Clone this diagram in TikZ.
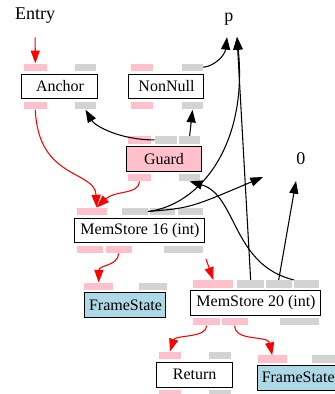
\documentclass[tikz,border=0pt]{standalone}
\usepackage{fontspec}
\setmainfont{Liberation Serif}
\usetikzlibrary{arrows.meta}
\usetikzlibrary{positioning}

\definecolor{slotpink}{RGB}{255,192,203}
\definecolor{slotgray}{RGB}{211,211,211}
\definecolor{fsblue}{RGB}{173,216,230}

\tikzset{
  opbox/.style={draw=black, line width=0.75pt, minimum height=18.5pt, inner sep=0pt, font=\fontsize{12}{14}\selectfont},
  slot/.style={minimum height=5.6pt, inner sep=0pt, draw=none},
  lbl/.style={font=\fontsize{13.5}{16}\selectfont, inner sep=0pt},
  dataedge/.style={black, line width=0.8pt, -{Triangle[length=9.5pt,width=6.8pt]}},
  ctrledge/.style={red, line width=0.8pt, -{Triangle[length=9.5pt,width=6.8pt]}}
}

% name, colour, left x, right x, centre y
\newcommand{\portslot}[5]{\node[slot, fill=#2, minimum width={(#4-#3)*0.75pt}] (#1) at ({(#3+#4)/2},#5) {};}

\begin{document}
\begin{tikzpicture}[x=0.75pt,y=-0.75pt]
\clip (0,0) rectangle (335,394);

% operation boxes
\node[opbox, minimum width=57pt] (anchor) at (60,86.5) {Anchor};
\node[opbox, minimum width=56.25pt] (nonnull) at (166.5,86.5) {NonNull};
\node[opbox, minimum width=56.8pt, fill=slotpink] (guard) at (164,158.7) {Guard};
\node[opbox, minimum width=97.5pt] (ms16) at (140,230.5) {MemStore 16 (int)};
\node[opbox, minimum width=60.75pt, fill=fsblue] (fsl) at (125.5,305.3) {FrameState};
\node[opbox, minimum width=97.5pt] (ms20) at (256,302.8) {MemStore 20 (int)};
\node[opbox, minimum width=57pt] (ret) at (194.7,374.8) {Return};
\node[opbox, minimum width=60.75pt, fill=fsblue] (fsr) at (298.2,377.7) {FrameState};

% input and output slots
\portslot{anchor-i1}{slotpink}{24}{46.7}{67.25}
\portslot{anchor-i2}{slotgray}{75}{96}{67.25}
\portslot{anchor-o1}{slotpink}{24}{46.7}{105.75}
\portslot{anchor-o2}{slotgray}{75}{96}{105.75}

\portslot{nonnull-i1}{slotpink}{131}{153}{67.25}
\portslot{nonnull-i2}{slotgray}{182}{203}{67.25}
\portslot{nonnull-o1}{slotpink}{131}{153}{105.75}
\portslot{nonnull-o2}{slotgray}{182}{203}{105.75}

\portslot{guard-i1}{slotpink}{128.3}{150.7}{139.9}
\portslot{guard-i2}{slotgray}{155}{177.3}{139.9}
\portslot{guard-i3}{slotgray}{179.3}{200}{139.9}
\portslot{guard-o1}{slotpink}{128.3}{150.7}{177.4}
\portslot{guard-o2}{slotgray}{179.3}{200}{177.4}

\portslot{ms16-i1}{slotpink}{77.3}{106.7}{211.5}
\portslot{ms16-i2}{slotgray}{121.7}{147.7}{211.5}
\portslot{ms16-i3}{slotgray}{150}{175}{211.5}
\portslot{ms16-i4}{slotgray}{177.7}{202.7}{211.5}
\portslot{ms16-o1}{slotpink}{77.3}{103.3}{249.4}
\portslot{ms16-o2}{slotpink}{105.7}{131.7}{249.4}
\portslot{ms16-o3}{slotgray}{164.3}{202.7}{249.4}

\portslot{fsl-i1}{slotpink}{84}{113.3}{286.5}
\portslot{fsl-i2}{slotgray}{139}{166.7}{286.5}

\portslot{ms20-i1}{slotpink}{193.3}{233.3}{283.9}
\portslot{ms20-i2}{slotgray}{237.3}{264}{283.9}
\portslot{ms20-i3}{slotgray}{265.7}{291.7}{283.9}
\portslot{ms20-i4}{slotgray}{294}{319}{283.9}
\portslot{ms20-o1}{slotpink}{193.3}{220}{321.7}
\portslot{ms20-o2}{slotpink}{221.7}{247.7}{321.7}
\portslot{ms20-o3}{slotgray}{280}{319}{321.7}

\portslot{ret-i1}{slotpink}{159}{181}{355.5}
\portslot{ret-i2}{slotgray}{209.3}{230.7}{355.5}
\portslot{ret-o1}{slotpink}{159}{181}{394}
\portslot{ret-o2}{slotgray}{209.3}{230.7}{394}

\portslot{fsr-i1}{slotpink}{257.7}{286.7}{359.2}
\portslot{fsr-i2}{slotgray}{312.3}{340}{359.2}

% free labels
\node[lbl] (entry) at (35,16) {Entry};
\node[lbl] (p) at (229,19) {p};
\node[lbl] (zero) at (301,159) {0};

% control flow
\draw[ctrledge, shorten <=10pt] (entry.south) -- (anchor-i1.north);
\draw[ctrledge] (anchor-o1.south) .. controls (38,180) and (95,170) .. ([xshift=3.5pt]ms16-i1.north);
\draw[ctrledge] (guard-o1.south) .. controls (139,195) and (115,190) .. ([xshift=3.5pt]ms16-i1.north);
\draw[ctrledge] (ms16-o2.south) .. controls (118,266) and (99,265) .. (fsl-i1.north);
\coordinate (ms20-cut) at (206,259);
\draw[ctrledge] (ms20-cut) -- (ms20-i1.north);
\draw[ctrledge] (ms20-o1.south) .. controls (207,338) and (175,335) .. (ret-i1.north);
\draw[ctrledge] (ms20-o2.south) .. controls (235,342) and (268,335) .. (fsr-i1.north);

% data flow
\draw[dataedge] (nonnull-i2.east) .. controls (215,66) and (225,55) .. ([shift={(-2,18)}]p.center);
\draw[dataedge] (guard-i3.north) -- (nonnull-o2.south);
\draw[dataedge] (guard-i2.west) .. controls (120,140) and (95,126) .. (anchor-o2.south);
\draw[dataedge] (ms16-i2.east) .. controls (200,205) and (248,145) .. ([shift={(8,18)}]p.center);
\draw[dataedge] (ms16-i2.east) .. controls (190,208) .. ([shift={(-38,18)}]zero.center);
\draw[dataedge] (ms20-i2.north) -- ([shift={(8,18)}]p.center);
\draw[dataedge] (ms20-i3.north) -- ([shift={(-5,22)}]zero.center);
\draw[dataedge] (ms20-i4.north west) .. controls (232,265) and (237,195) .. (guard-o2.south);

\end{tikzpicture}
\end{document}
